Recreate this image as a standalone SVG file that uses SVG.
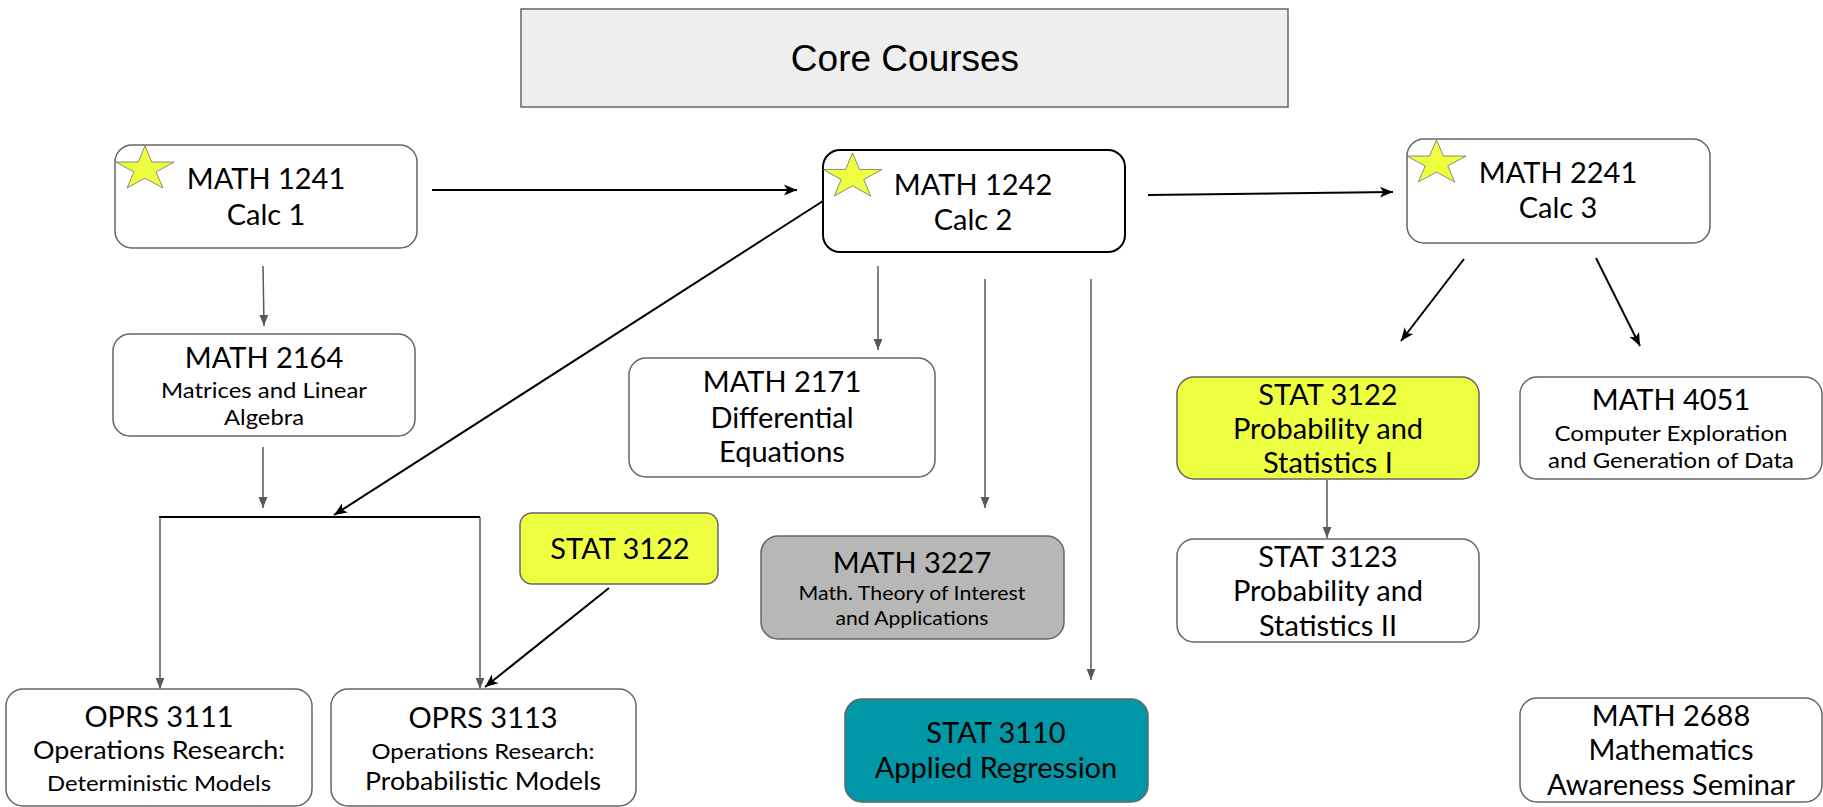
<svg xmlns="http://www.w3.org/2000/svg" xmlns:xlink="http://www.w3.org/1999/xlink" width="1823" height="807" viewBox="0 0 1823 807">
<defs>
<style>
.box{fill:#ffffff;stroke:#666666;stroke-width:1.5}
.yel{fill:#eeff41}
.gry{fill:#b7b7b7}
.teal{fill:#0097a7}
.t{font-family:Lato,"Liberation Sans",sans-serif;fill:#000;text-anchor:middle}
.big{font-size:29px}
.sm{font-size:21px}
.ga{stroke:#595959;stroke-width:1.5;fill:none;marker-end:url(#ag)}
.ba{stroke:#000;stroke-width:2;fill:none;marker-end:url(#ab)}
.star{fill:#eeff41;stroke:#666666;stroke-width:1.5}
</style>
<marker id="ag" viewBox="0 0 10 10" refX="10" refY="5" markerWidth="11" markerHeight="11" markerUnits="userSpaceOnUse" orient="auto"><path d="M0,1 L10,5 L0,9 z" fill="#595959"/></marker>
<marker id="ab" viewBox="0 0 10 10" refX="10" refY="5" markerWidth="13" markerHeight="13" markerUnits="userSpaceOnUse" orient="auto"><path d="M0,0.8 L10,5 L0,9.2 L2.5,5 z" fill="#000"/></marker>
<polygon id="star" points="50,0 61.8,38.2 100,38.2 69.1,61.8 80.9,100 50,76.4 19.1,100 30.9,61.8 0,38.2 38.2,38.2"/>
</defs>
<rect width="1823" height="807" fill="#ffffff"/>

<g id="title">
<rect x="521" y="9" width="767" height="98" fill="#eeeeee" stroke="#666666" stroke-width="1.5"/>
<text x="905" y="71" font-family="'Liberation Sans',Arial,sans-serif" font-size="37" text-anchor="middle">Core Courses</text>
</g>

<g id="connectors">
<line class="ba" x1="432" y1="190" x2="797" y2="190"/>
<line class="ba" x1="1148" y1="195" x2="1393" y2="192"/>
<line class="ga" x1="263" y1="266" x2="264" y2="326"/>
<line class="ga" x1="263" y1="447" x2="263" y2="508"/>
<line class="ba" x1="823" y1="201" x2="334" y2="515"/>
<line x1="159" y1="517" x2="480" y2="517" stroke="#000" stroke-width="2"/>
<line class="ga" x1="160" y1="517" x2="160" y2="689"/>
<line class="ga" x1="480" y1="517" x2="480" y2="689"/>
<line class="ba" x1="609" y1="588" x2="485" y2="687"/>
<line class="ga" x1="878" y1="266" x2="878" y2="350"/>
<line class="ga" x1="985" y1="279" x2="985" y2="508"/>
<line class="ga" x1="1091" y1="279" x2="1091" y2="680"/>
<line class="ba" x1="1464" y1="259" x2="1401" y2="341"/>
<line class="ba" x1="1596" y1="258" x2="1640" y2="346"/>
<line class="ga" x1="1327" y1="480" x2="1327" y2="538"/>
</g>

<g id="math1241">
<rect class="box" x="115" y="145" width="302" height="103" rx="17"/>
<use xlink:href="#star" class="star" vector-effect="non-scaling-stroke" transform="translate(116,146) scale(0.58,0.42)"/>
<text class="t big" x="266" y="189">MATH 1241</text>
<text class="t big" x="266" y="225">Calc 1</text>
</g>

<g id="math1242">
<rect x="823" y="150" width="302" height="102" rx="17" fill="#fff" stroke="#000" stroke-width="2"/>
<use xlink:href="#star" class="star" vector-effect="non-scaling-stroke" transform="translate(823,153) scale(0.59,0.43)"/>
<text class="t big" x="973" y="195">MATH 1242</text>
<text class="t big" x="973" y="230">Calc 2</text>
</g>

<g id="math2241">
<rect class="box" x="1407" y="139" width="303" height="104" rx="17"/>
<use xlink:href="#star" class="star" vector-effect="non-scaling-stroke" transform="translate(1407,140) scale(0.59,0.42)"/>
<text class="t big" x="1558" y="183">MATH 2241</text>
<text class="t big" x="1558" y="218">Calc 3</text>
</g>

<g id="math2164">
<rect class="box" x="113" y="334" width="302" height="102" rx="17"/>
<text class="t big" x="264" y="368">MATH 2164</text>
<text class="t sm" x="264" y="398" textLength="206" lengthAdjust="spacingAndGlyphs">Matrices and Linear</text>
<text class="t sm" x="264" y="425" textLength="80" lengthAdjust="spacingAndGlyphs">Algebra</text>
</g>

<g id="math2171">
<rect class="box" x="629" y="358" width="306" height="119" rx="17"/>
<text class="t big" x="782" y="392">MATH 2171</text>
<text class="t big" x="782" y="428">Differential</text>
<text class="t big" x="782" y="462">Equations</text>
</g>

<g id="stat3122a">
<rect class="box yel" x="520" y="513" width="198" height="71" rx="12"/>
<text class="t big" x="620" y="559">STAT 3122</text>
</g>

<g id="math3227">
<rect class="box gry" x="761" y="536" width="303" height="103" rx="17"/>
<text class="t big" x="912" y="573">MATH 3227</text>
<text class="t" font-size="20" x="912" y="600" textLength="227" lengthAdjust="spacingAndGlyphs">Math. Theory of Interest</text>
<text class="t" font-size="20" x="912" y="625" textLength="153" lengthAdjust="spacingAndGlyphs">and Applications</text>
</g>

<g id="stat3110">
<rect class="box teal" x="845" y="699" width="303" height="103" rx="17"/>
<text class="t big" x="996" y="743">STAT 3110</text>
<text class="t big" x="996" y="778">Applied Regression</text>
</g>

<g id="oprs3111">
<rect class="box" x="6" y="689" width="306" height="117" rx="17"/>
<text class="t big" x="159" y="727">OPRS 3111</text>
<text class="t" font-size="25" x="159" y="759" textLength="252" lengthAdjust="spacingAndGlyphs">Operations Research:</text>
<text class="t" font-size="21.5" x="159" y="791" textLength="224" lengthAdjust="spacingAndGlyphs">Deterministic Models</text>
</g>

<g id="oprs3113">
<rect class="box" x="331" y="689" width="305" height="117" rx="17"/>
<text class="t big" x="483" y="728">OPRS 3113</text>
<text class="t" font-size="21.5" x="483" y="759" textLength="223" lengthAdjust="spacingAndGlyphs">Operations Research:</text>
<text class="t" font-size="25" x="483" y="790" textLength="236" lengthAdjust="spacingAndGlyphs">Probabilistic Models</text>
</g>

<g id="stat3122">
<rect class="box yel" x="1177" y="377" width="302" height="102" rx="17"/>
<text class="t big" x="1328" y="405">STAT 3122</text>
<text class="t big" x="1328" y="439">Probability and</text>
<text class="t big" x="1328" y="473">Statistics I</text>
</g>

<g id="math4051">
<rect class="box" x="1520" y="377" width="302" height="102" rx="17"/>
<text class="t big" x="1671" y="410">MATH 4051</text>
<text class="t sm" x="1671" y="441" textLength="233" lengthAdjust="spacingAndGlyphs">Computer Exploration</text>
<text class="t sm" x="1671" y="468" textLength="246" lengthAdjust="spacingAndGlyphs">and Generation of Data</text>
</g>

<g id="stat3123">
<rect class="box" x="1177" y="539" width="302" height="103" rx="17"/>
<text class="t big" x="1328" y="567">STAT 3123</text>
<text class="t big" x="1328" y="601">Probability and</text>
<text class="t big" x="1328" y="636">Statistics II</text>
</g>

<g id="math2688">
<rect class="box" x="1520" y="698" width="302" height="104" rx="17"/>
<text class="t big" x="1671" y="726">MATH 2688</text>
<text class="t big" x="1671" y="760">Mathematics</text>
<text class="t big" x="1671" y="795">Awareness Seminar</text>
</g>
</svg>
